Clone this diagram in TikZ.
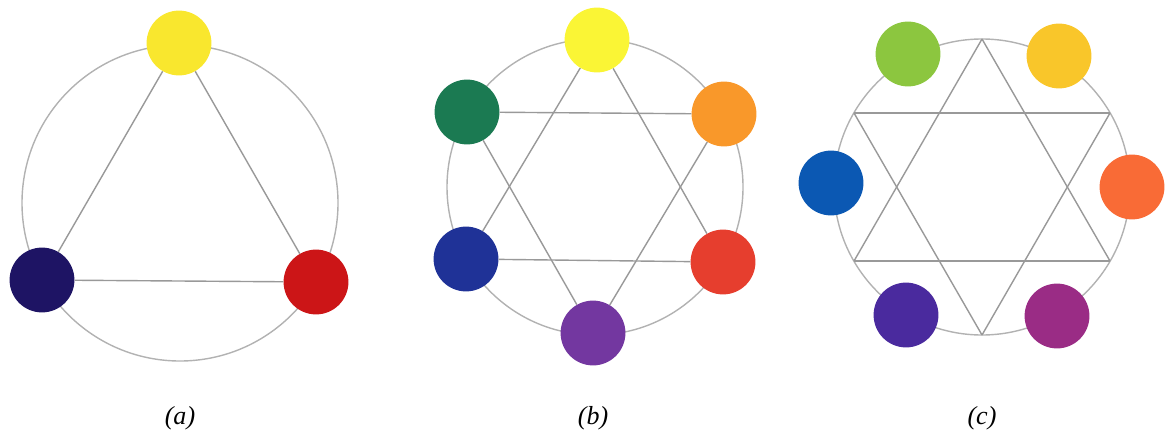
\documentclass[tikz,border=0pt]{standalone}
\usepackage{fontspec}
\setmainfont{Liberation Serif}
\usepackage{tikz}

\definecolor{ayellow}{HTML}{F9E72E}
\definecolor{anavy}{HTML}{1E1464}
\definecolor{ared}{HTML}{CC1517}
\definecolor{byellow}{HTML}{FAF535}
\definecolor{bgreen}{HTML}{1B7A52}
\definecolor{borange}{HTML}{F9982A}
\definecolor{bblue}{HTML}{1F3297}
\definecolor{bred}{HTML}{E63E2E}
\definecolor{bpurple}{HTML}{7337A0}
\definecolor{cgreen}{HTML}{8CC63F}
\definecolor{cyellow}{HTML}{F9C62A}
\definecolor{cblue}{HTML}{0B58B3}
\definecolor{corange}{HTML}{F96B36}
\definecolor{cindigo}{HTML}{4A2A9E}
\definecolor{cmagenta}{HTML}{9A2C85}

\begin{document}
\begin{tikzpicture}[x=0.025cm,y=-0.025cm,
  ring/.style={draw=gray!60,line width=1pt},
  link/.style={draw=gray!80,line width=1pt},
  dot/.style={circle,inner sep=0pt,minimum size=1.62cm},
  caption/.style={font=\fontsize{18.5}{22}\selectfont\itshape}]

  \useasboundingbox (0,0) rectangle (1168,434);

  % (a)
  \draw[ring] (180,203) circle[radius=158];
  \node[dot,fill=ayellow] (a1) at (179,43) {};
  \node[dot,fill=anavy] (a2) at (42,280) {};
  \node[dot,fill=ared] (a3) at (316,282) {};
  \path[link]
    (a1) edge (a2)
         edge (a3)
    (a2) edge (a3);
  \node[caption] (la) at (180,418) {(a)};

  % (b)
  \draw[ring] (595,187) circle[radius=148];
  \node[dot,fill=byellow] (b1) at (597,40) {};
  \node[dot,fill=borange] (b2) at (724,114) {};
  \node[dot,fill=bred] (b3) at (723,262) {};
  \node[dot,fill=bpurple] (b4) at (593,333) {};
  \node[dot,fill=bblue] (b5) at (466,259) {};
  \node[dot,fill=bgreen] (b6) at (467,112) {};
  \path[link]
    (b1) edge (b3)
         edge (b5)
    (b3) edge (b5)
    (b2) edge (b4)
         edge (b6)
    (b4) edge (b6);
  \node[caption] (lb) at (593,418) {(b)};

  % (c)
  \draw[ring] (982,187) circle[radius=148];
  \coordinate (t1) at (982,39);
  \coordinate (t2) at (1110,113);
  \coordinate (t3) at (1110,261);
  \coordinate (t4) at (982,335);
  \coordinate (t5) at (854,261);
  \coordinate (t6) at (854,113);
  \path[link]
    (t1) edge (t3)
         edge (t5)
    (t3) edge (t5)
    (t2) edge (t4)
         edge (t6)
    (t4) edge (t6);
  \node[dot,fill=cgreen] (c1) at (908,54) {};
  \node[dot,fill=cyellow] (c2) at (1059,56) {};
  \node[dot,fill=corange] (c3) at (1132,187) {};
  \node[dot,fill=cmagenta] (c4) at (1057,316) {};
  \node[dot,fill=cindigo] (c5) at (906,315) {};
  \node[dot,fill=cblue] (c6) at (831,183) {};
  \node[caption] (lc) at (982,418) {(c)};
\end{tikzpicture}
\end{document}
